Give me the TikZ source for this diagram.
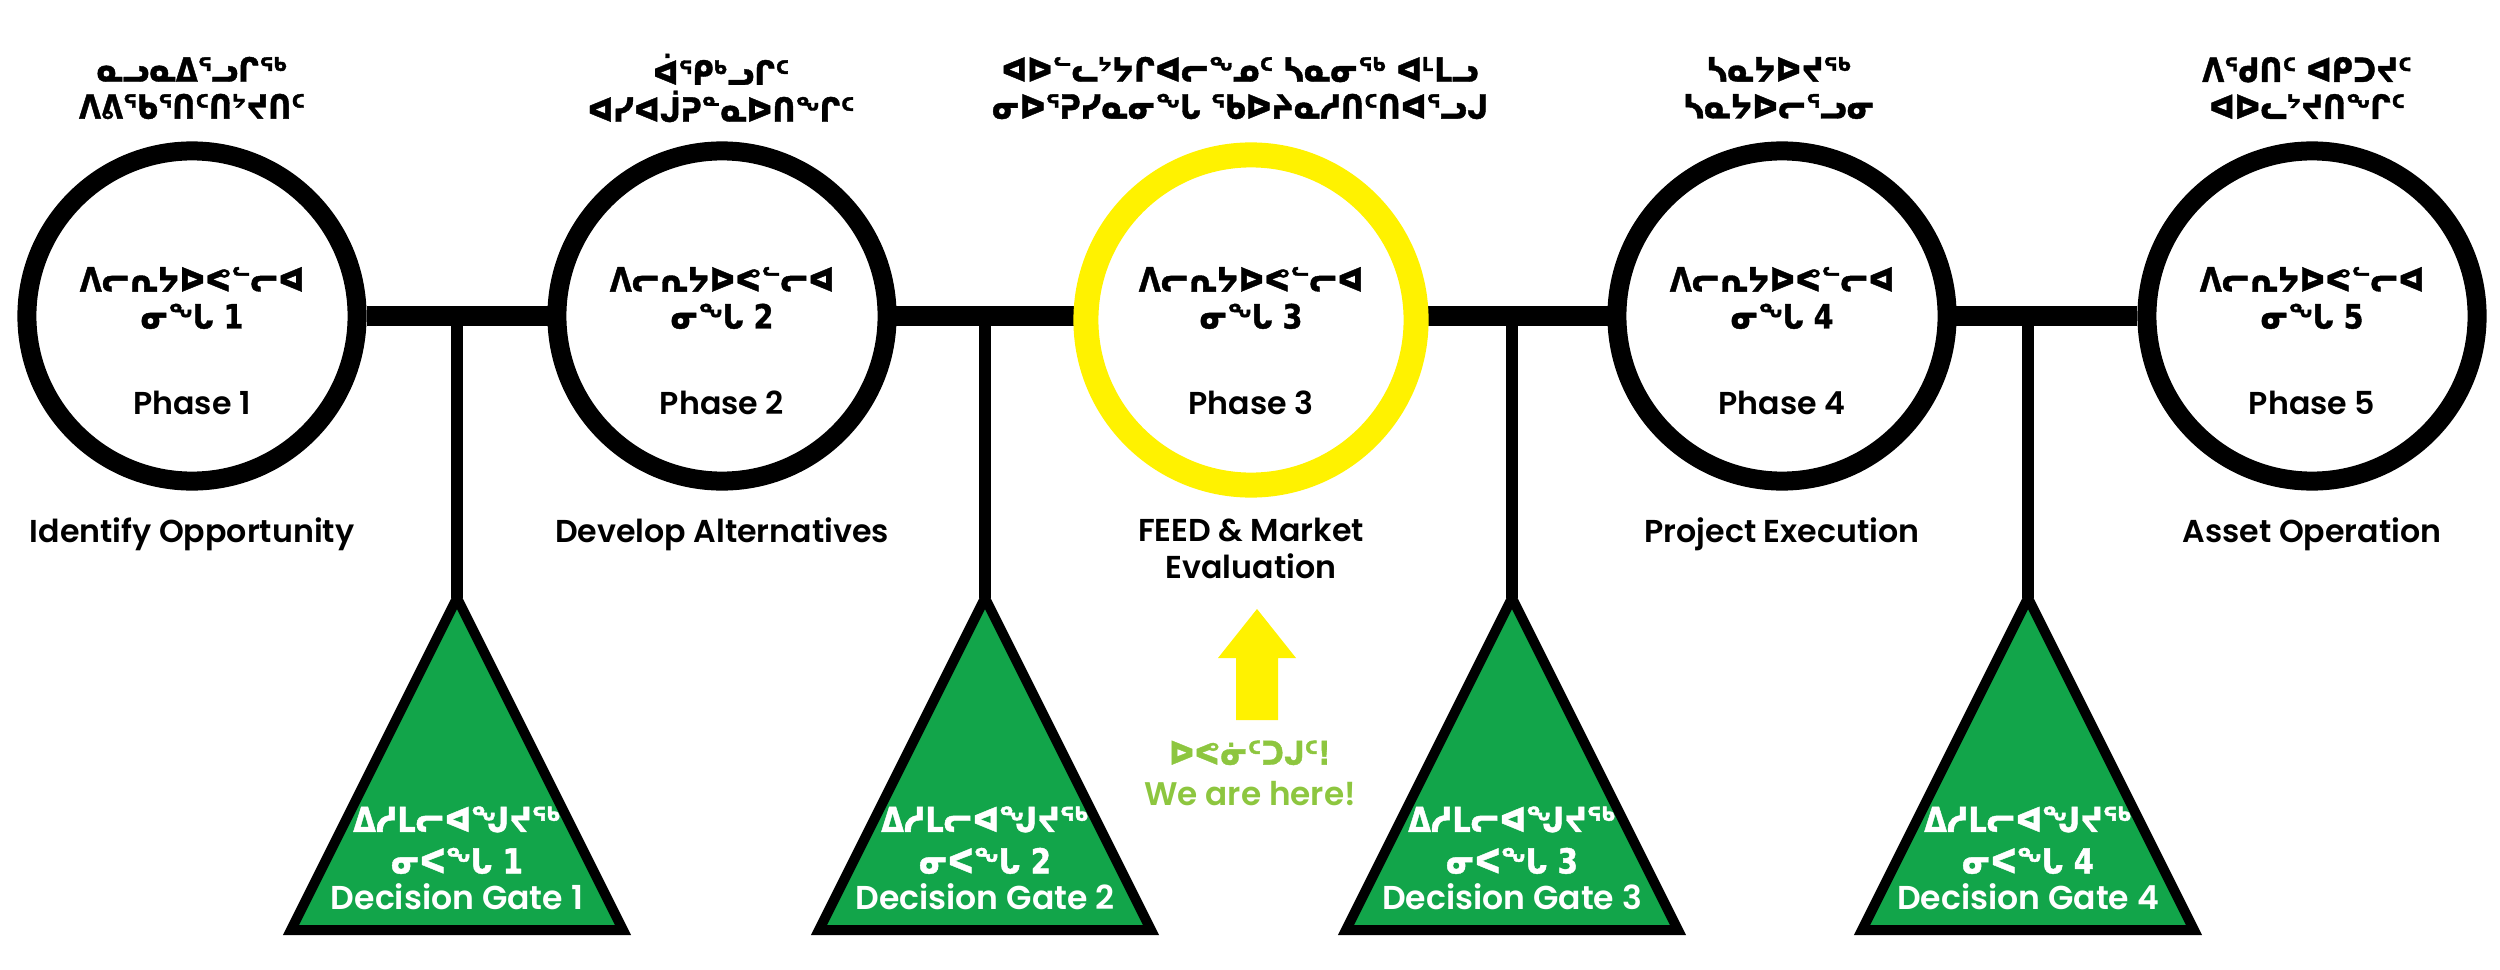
\documentclass[tikz,border=0pt]{standalone}
\usepackage{fontspec}
\setmainfont{Poppins}[BoldFont={Poppins SemiBold}]
\newfontfamily\syl{DejaVu Sans}[FakeStretch=0.85, BoldFeatures={FakeBold=1.2}]
\usetikzlibrary{positioning,backgrounds}

\definecolor{gategreen}{HTML}{12A54A}
\definecolor{herelime}{HTML}{8DC63F}
\definecolor{hereyellow}{HTML}{FFF200}

\begin{document}
\begin{tikzpicture}[
    x=0.01cm, y=-0.01cm,
    phase/.style={circle, draw=black, line width=0.19cm, fill=white, minimum size=3.3cm, inner sep=0pt},
    current/.style={phase, draw=yellow, line width=0.25cm, minimum size=3.3cm},
    bar/.style={draw=black, line width=0.19cm},
    stem/.style={draw=black, line width=0.12cm},
    gate/.style={fill=gategreen, draw=black, line width=0.1cm, line join=miter},
    syltxt/.style={font=\syl\bfseries\fontsize{9.5}{10.5}\selectfont, align=center, inner sep=0pt},
    lattxt/.style={font=\bfseries\fontsize{9}{10.6}\selectfont, align=center, inner sep=0pt},
    gatetxt/.style={font=\bfseries\fontsize{9.4}{10.2}\selectfont, text=white, align=center, inner sep=0pt},
  ]
  \useasboundingbox (0,0) rectangle (2500,970);

  % Phase circles (row y = 316)
  \def\ycirc{316}
  \foreach \n/\x in {1/192,2/722,4/1782,5/2312}
    \node[phase] (c\n) at (\x,\ycirc) {};
  \node[current] (c3) at (1251,320) {};

  % Timeline bar behind the circles
  \begin{scope}[on background layer]
    \draw[bar] (c1) -- (c5);
  \end{scope}

  % Labels above the circles
  \node[syltxt] (l1) at (192,88)  {ᓇᓗᓇᐃᕐᓗᒋᖅ\\ᐱᕕᖃᕐᑎᑦᑎᔾᔪᑎᑦ};
  \node[syltxt] (l2) at (721,88)  {ᐋᕿᒃᓗᒋᑦ\\ᐊᓯᐊᒎᕈᓐᓇᐅᑎᖏᑦ};
  \node[syltxt] (l3) at (1240,88) {ᐊᐅᓪᓚᔾᔭᒋᐊᓕᖕᓄᑦ ᓴᓇᓂᖅ ᐊᒻᒪᓗ\\ᓂᐅᕐᕈᓯᓇᓂᖓ ᖃᐅᔨᓇᓱᑎᑦᑎᐊᕐᓗᒍ};
  \node[syltxt] (l4) at (1779,88) {ᓴᓇᔭᐅᔪᖅ\\ᓴᓇᔭᐅᓕᕐᓗᓂ};
  \node[syltxt] (l5) at (2307,88) {ᐱᖁᑎᑦ ᐊᑭᑐᔪᑦ\\ᐊᐅᓚᔾᔪᑎᖏᑦ};

  % Text inside the circles
  \foreach \n/\x in {1/192,2/722,3/1251,4/1782,5/2312} {
    \node[syltxt] (s\n) at (\x,298) {ᐱᓕᕆᔭᐅᕙᓪᓕᐊ\\ᓂᖓ \n};
    \node[lattxt] (p\n) at (\x,403) {Phase \n};
  }

  % Phase names below the circles
  \node[lattxt, anchor=north] (d1) at (192,517)  {Identify Opportunity};
  \node[lattxt, anchor=north] (d2) at (722,517)  {Develop Alternatives};
  \node[lattxt, anchor=north] (d3) at (1251,517) {FEED \& Market\\Evaluation};
  \node[lattxt, anchor=north] (d4) at (1782,517) {Project Execution};
  \node[lattxt, anchor=north] (d5) at (2312,517) {Asset Operation};

  % Decision gates hanging from the bar
  \foreach \n/\x in {1/457,2/985,3/1512,4/2028} {
    \coordinate (j\n) at (\x,\ycirc);
    \coordinate (a\n) at (\x,598);
    \draw[stem] (j\n) -- (a\n);
    \draw[gate] (a\n) -- (\x+166,930) -- (\x-166,930) -- cycle;
    \node[gatetxt] (g\n) at (\x,858) {{\syl\fontsize{9.8}{10.2}\selectfont ᐃᓱᒪᓕᐊᖑᔪᖅ}\\[1.6pt]{\syl\fontsize{9.8}{10.2}\selectfont ᓂᐸᖓ \n}\\Decision Gate \n};
  }

  % We are here
  \coordinate (tip) at (1257,609);
  \fill[hereyellow] (tip) -- ++(39,49) -- ++(-18,0) -- ++(0,62) -- ++(-42,0) -- ++(0,-62) -- ++(-18,0) -- cycle;
  \node[lattxt, font=\bfseries\fontsize{9.3}{11.5}\selectfont, text=herelime] (here) at (1250,773) {{\syl ᐅᕙᓃᑦᑐᒍᑦ!}\\We are here!};
\end{tikzpicture}
\end{document}
